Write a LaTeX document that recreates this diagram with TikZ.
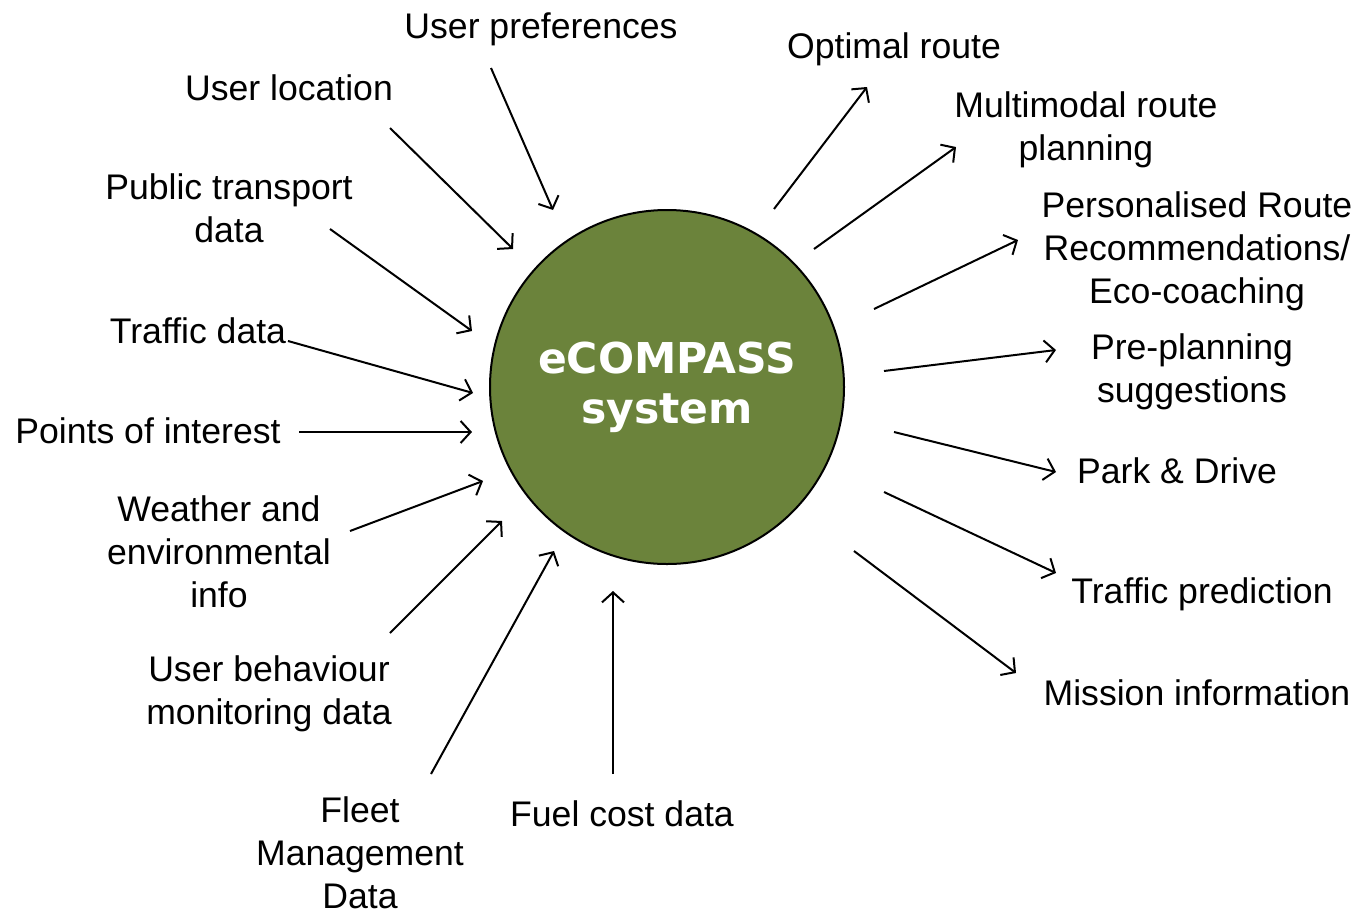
\documentclass[tikz,border=0pt]{standalone}
\usepackage{fontspec}
\setmainfont{Liberation Sans}
\newfontfamily\titlefont{DejaVu Sans}
\usetikzlibrary{arrows.meta}
\definecolor{olive}{RGB}{107,131,59}
\begin{document}
\begin{tikzpicture}[x=1pt,y=-1pt,
  lbl/.style={inner sep=0pt,align=center,font=\fontsize{35.6}{43}\selectfont},
  conn/.style={line width=2pt,-{Straight Barb[length=10pt,width=22pt,line width=2pt]}}]
\useasboundingbox (0,0) rectangle (1357,911);
\node[circle,draw=black,line width=2pt,fill=olive,minimum size=354pt,inner sep=0pt,
  text=white,align=center,font=\titlefont\bfseries\fontsize{42.5}{50}\selectfont]
  (sys) at (667,387) {eCOMPASS\\system};
% input labels
\node[lbl] (up) at (541,29) {User preferences};
\node[lbl] (ul) at (289,88) {User location};
\node[lbl] (pt) at (229,208) {Public transport\\data};
\node[lbl] (td) at (198,331) {Traffic data};
\node[lbl] (poi) at (148,431) {Points of interest};
\node[lbl] (we) at (219,552) {Weather and\\environmental\\info};
\node[lbl] (ub) at (269,694) {User behaviour\\monitoring data};
\node[lbl] (fm) at (360,853) {Fleet\\Management\\Data};
\node[lbl] (fc) at (622,814) {Fuel cost data};
% output labels
\node[lbl] (or) at (894,49) {Optimal route};
\node[lbl] (mm) at (1086,130) {Multimodal route\\planning};
\node[lbl] (pr) at (1197,251) {Personalised Route\\Recommendations/\\Eco-coaching};
\node[lbl] (pp) at (1192,372) {Pre-planning\\suggestions};
\node[lbl] (pd) at (1177,471) {Park \& Drive};
\node[lbl] (tp) at (1202,594) {Traffic prediction};
\node[lbl] (mi) at (1197,693) {Mission information};
% arrow end points
\coordinate (a1s) at (491,68);  \coordinate (a1e) at (553,210);
\coordinate (a2s) at (390,128); \coordinate (a2e) at (513,249);
\coordinate (a3s) at (330,229); \coordinate (a3e) at (472,331);
\coordinate (a4s) at (288,341); \coordinate (a4e) at (473,393);
\coordinate (a5s) at (299,432); \coordinate (a5e) at (472,432);
\coordinate (a6s) at (350,531); \coordinate (a6e) at (483,481);
\coordinate (a7s) at (390,633); \coordinate (a7e) at (502,521);
\coordinate (a8s) at (431,774); \coordinate (a8e) at (554,551);
\coordinate (a9s) at (613,774); \coordinate (a9e) at (613,591);
\coordinate (b1s) at (774,209); \coordinate (b1e) at (867,87);
\coordinate (b2s) at (814,249); \coordinate (b2e) at (956,147);
\coordinate (b3s) at (874,309); \coordinate (b3e) at (1018,240);
\coordinate (b4s) at (884,371); \coordinate (b4e) at (1056,350);
\coordinate (b5s) at (894,432); \coordinate (b5e) at (1056,472);
\coordinate (b6s) at (884,492); \coordinate (b6e) at (1056,573);
\coordinate (b7s) at (854,551); \coordinate (b7e) at (1016,673);
\foreach \i in {1,...,9} {\draw[conn] (a\i s) -- (a\i e);}
\foreach \i in {1,...,7} {\draw[conn] (b\i s) -- (b\i e);}
\end{tikzpicture}
\end{document}
